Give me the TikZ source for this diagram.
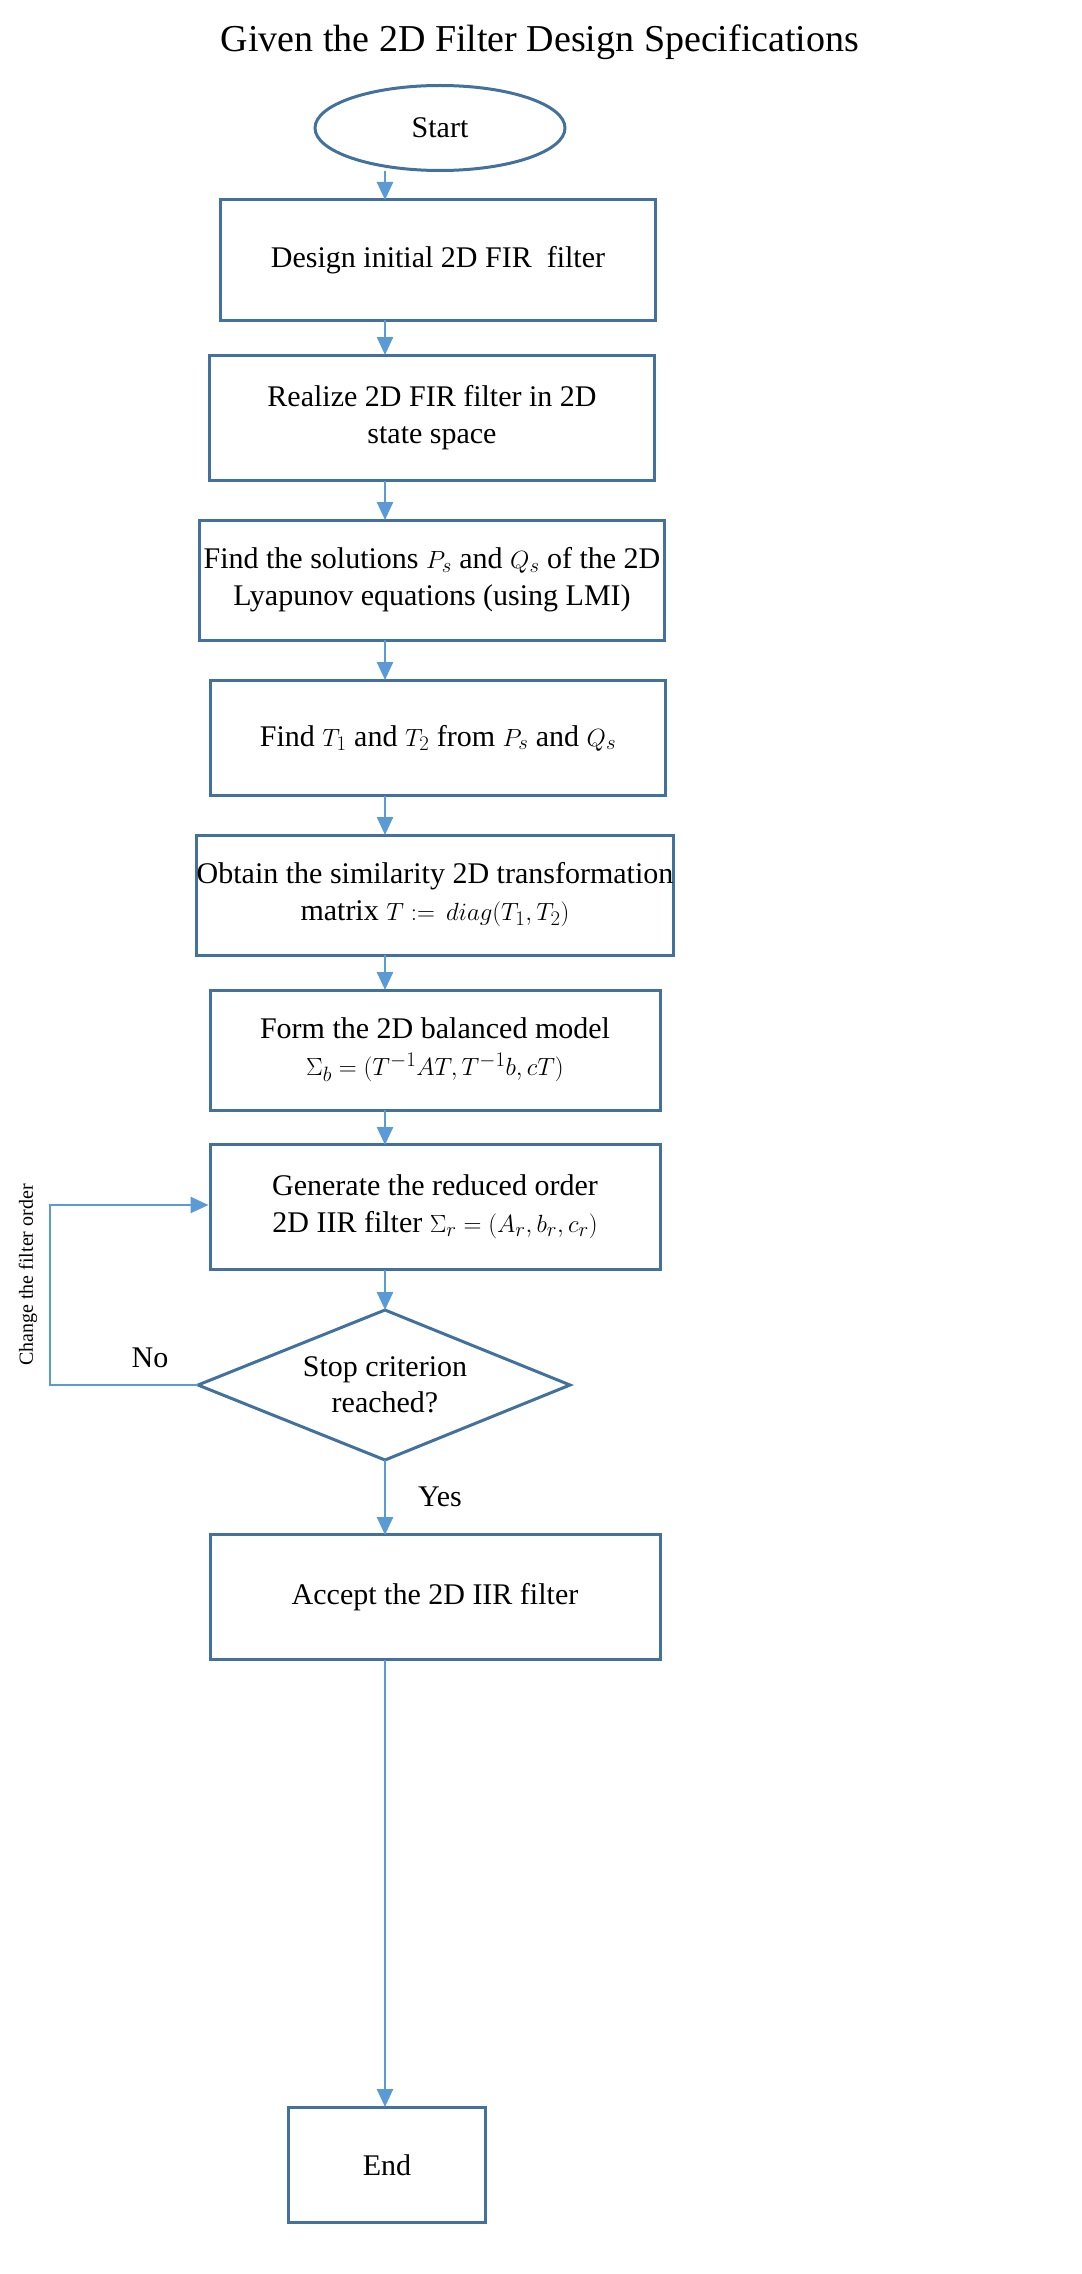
\documentclass[tikz,border=0pt]{standalone}
\usepackage{fontspec}
\setmainfont{Liberation Serif}
\usetikzlibrary{arrows.meta,shapes.geometric}
\definecolor{boxc}{HTML}{41719C}
\definecolor{arr}{HTML}{5B9BD5}
\begin{document}
\begin{tikzpicture}[x=1pt,y=-1pt,
  blk/.style={draw=boxc,line width=3pt,align=center,font=\fontsize{30}{37}\selectfont,inner sep=0pt},
  con/.style={draw=arr,line width=2.5pt,-{Triangle[length=18pt,width=16pt]}},
  lbl/.style={font=\fontsize{30}{36}\selectfont}]
\useasboundingbox (0,0) rectangle (1081,2274);
\node[font=\fontsize{38}{44}\selectfont] (title) at (540,42) {Given the 2D Filter Design Specifications};
\node[blk,ellipse,minimum width=250pt,minimum height=85pt] (start) at (440,128) {Start};
\node[blk,minimum width=435pt,minimum height=120pt] (b1) at (438,260) {Design initial 2D FIR\ \ filter};
\node[blk,minimum width=445pt,minimum height=125pt] (b2) at (432,418) {Realize 2D FIR filter in 2D\\state space};
\node[blk,minimum width=465pt,minimum height=120pt] (b3) at (432,580) {Find the solutions $P_s$ and $Q_s$ of the 2D\\Lyapunov equations (using LMI)};
\node[blk,minimum width=455pt,minimum height=115pt] (b4) at (438,738) {Find $T_1$ and $T_2$ from $P_s$ and $Q_s$};
\node[blk,minimum width=460pt,minimum height=120pt] (b5) at (435,895) {Obtain the similarity 2D transformation\\matrix $T\mathrel{:=}\,diag(T_1,T_2)$};
\node[blk,minimum width=450pt,minimum height=120pt] (b6) at (435,1050) {Form the 2D balanced model\\$\Sigma_b=(T^{-1}AT,T^{-1}b,cT)$};
\node[blk,minimum width=450pt,minimum height=125pt] (b7) at (435,1207) {Generate the reduced order\\2D IIR filter $\Sigma_r=(A_r,b_r,c_r)$};
\coordinate (dt) at (385,1310);
\coordinate (dl) at (198,1385);
\coordinate (dr) at (570,1385);
\coordinate (db) at (385,1460);
\draw[boxc,line width=3pt] (dt)--(dr)--(db)--(dl)--cycle;
\node[align=center,font=\fontsize{30}{36}\selectfont] (dtext) at (385,1385) {Stop criterion\\reached?};
\node[blk,minimum width=450pt,minimum height=125pt] (b8) at (435,1597) {Accept the 2D IIR filter};
\node[blk,minimum width=197pt,minimum height=115pt] (end) at (387,2165) {End};
\draw[con] (385,171) -- (385,200);
\draw[con] (385,320) -- (385,355);
\draw[con] (385,481) -- (385,520);
\draw[con] (385,640) -- (385,680);
\draw[con] (385,796) -- (385,835);
\draw[con] (385,955) -- (385,990);
\draw[con] (385,1110) -- (385,1145);
\draw[con] (385,1270) -- (dt);
\draw[con] (db) -- (385,1535);
\draw[con] (385,1660) -- (385,2107);
\coordinate (l1) at (50,1385);
\coordinate (l2) at (50,1205);
\draw[con] (dl) -- (l1) -- (l2) -- (b7.west |- l2);
\node[lbl] (no) at (150,1358) {No};
\node[lbl] (yes) at (440,1497) {Yes};
\node[rotate=90,font=\fontsize{20}{24}\selectfont] (chg) at (28,1275) {Change the filter order};
\end{tikzpicture}
\end{document}
